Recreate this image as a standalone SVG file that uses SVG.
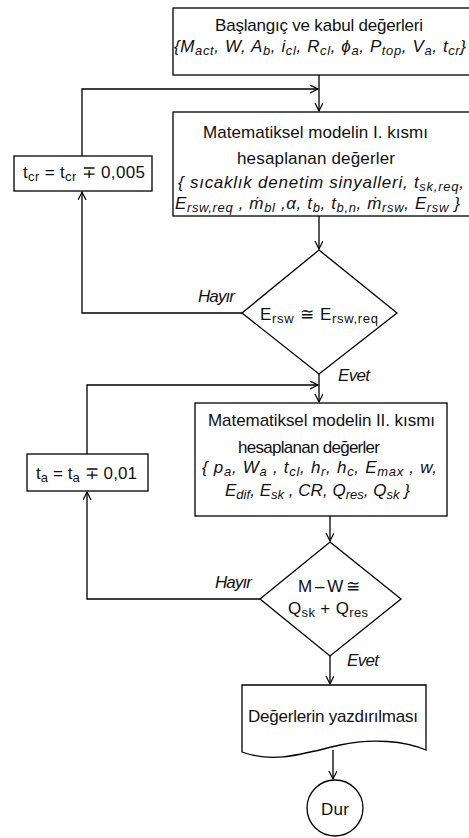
<svg xmlns="http://www.w3.org/2000/svg" width="469" height="838" viewBox="0 0 469 838">
<style>
.s{fill:#fff;stroke:#000;stroke-width:1.3}
.c{fill:none;stroke:#000;stroke-width:1.3}
text{font-family:"Liberation Sans",Arial,sans-serif;font-size:17px;fill:#111}
.i{font-style:italic}
.sb{font-size:13px}
</style>
<defs>
<marker id="a" markerWidth="10" markerHeight="10" refX="8" refY="4" orient="auto" markerUnits="userSpaceOnUse">
<path d="M0,0 L8,4 L0,8" fill="none" stroke="#000" stroke-width="1.2"/>
</marker>
</defs>
<rect width="469" height="838" fill="#fff"/>
<g id="connectors">
<path class="c" d="M319,75 V111" marker-end="url(#a)"/>
<path class="c" d="M242,313 H82 V192" marker-end="url(#a)"/>
<path class="c" d="M82,156 V89 H318" marker-end="url(#a)"/>
<path class="c" d="M319,216 V249" marker-end="url(#a)"/>
<path class="c" d="M319,374 V402" marker-end="url(#a)"/>
<path class="c" d="M260,599 H87 V492" marker-end="url(#a)"/>
<path class="c" d="M87,454 V385 H318" marker-end="url(#a)"/>
<path class="c" d="M330,516 V541" marker-end="url(#a)"/>
<path class="c" d="M330,656 V684" marker-end="url(#a)"/>
<path class="c" d="M333,750 V779" marker-end="url(#a)"/>
</g>
<g id="start">
<rect class="s" x="173" y="8" width="310" height="67"/>
<text x="215" y="31" textLength="208">Başlangıç ve kabul değerleri</text>
<text class="i" x="174" y="52" textLength="292">{M<tspan class="sb" dy="3">act</tspan><tspan dy="-3">, W, A</tspan><tspan class="sb" dy="3">b</tspan><tspan dy="-3">, i</tspan><tspan class="sb" dy="3">cl</tspan><tspan dy="-3">, R</tspan><tspan class="sb" dy="3">cl</tspan><tspan dy="-3">, ϕ</tspan><tspan class="sb" dy="3">a</tspan><tspan dy="-3">, P</tspan><tspan class="sb" dy="3">top</tspan><tspan dy="-3">, V</tspan><tspan class="sb" dy="3">a</tspan><tspan dy="-3">, t</tspan><tspan class="sb" dy="3">cr</tspan><tspan dy="-3">}</tspan></text>
</g>
<g id="model1">
<rect class="s" x="173" y="112" width="310" height="104"/>
<text x="203" y="138" textLength="225">Matematiksel modelin I. kısmı</text>
<text x="237" y="164" textLength="158">hesaplanan değerler</text>
<text class="i" x="178" y="188" textLength="286">{ sıcaklık denetim sinyalleri, t<tspan class="sb" dy="3">sk,req</tspan><tspan dy="-3">,</tspan></text>
<text class="i" x="175" y="209" textLength="285">E<tspan class="sb" dy="3">rsw,req</tspan><tspan dy="-3"> , ṁ</tspan><tspan class="sb" dy="3">bl</tspan><tspan dy="-3"> ,α, t</tspan><tspan class="sb" dy="3">b</tspan><tspan dy="-3">, t</tspan><tspan class="sb" dy="3">b,n</tspan><tspan dy="-3">, ṁ</tspan><tspan class="sb" dy="3">rsw</tspan><tspan dy="-3">, E</tspan><tspan class="sb" dy="3">rsw</tspan><tspan dy="-3"> }</tspan></text>
</g>
<g id="tcr">
<rect class="s" x="14" y="156" width="138" height="35"/>
<text x="23" y="178" textLength="122">t<tspan class="sb" dy="3">cr</tspan><tspan dy="-3"> = t</tspan><tspan class="sb" dy="3">cr</tspan><tspan dy="-3"> ∓ 0,005</tspan></text>
</g>
<g id="decision1">
<polygon class="s" points="319,250 397,313 319,374 242,313"/>
<text x="260" y="320" textLength="118">E<tspan class="sb" dy="3">rsw</tspan><tspan dy="-3"> ≅ E</tspan><tspan class="sb" dy="3">rsw,req</tspan></text>
<text class="i" x="198" y="302" textLength="37">Hayır</text>
<text class="i" x="338" y="381" textLength="32">Evet</text>
</g>
<g id="model2">
<rect class="s" x="195" y="403" width="252" height="113"/>
<text x="208" y="426" textLength="227">Matematiksel modelin II. kısmı</text>
<text x="238" y="453" textLength="142">hesaplanan değerler</text>
<text class="i" x="202" y="473" textLength="235">{ p<tspan class="sb" dy="3">a</tspan><tspan dy="-3">, W</tspan><tspan class="sb" dy="3">a</tspan><tspan dy="-3"> , t</tspan><tspan class="sb" dy="3">cl</tspan><tspan dy="-3">, h</tspan><tspan class="sb" dy="3">r</tspan><tspan dy="-3">, h</tspan><tspan class="sb" dy="3">c</tspan><tspan dy="-3">, E</tspan><tspan class="sb" dy="3">max</tspan><tspan dy="-3"> , w,</tspan></text>
<text class="i" x="225" y="496" textLength="185">E<tspan class="sb" dy="3">dif</tspan><tspan dy="-3">, E</tspan><tspan class="sb" dy="3">sk</tspan><tspan dy="-3"> , CR, Q</tspan><tspan class="sb" dy="3">res</tspan><tspan dy="-3">, Q</tspan><tspan class="sb" dy="3">sk</tspan><tspan dy="-3"> }</tspan></text>
</g>
<g id="ta">
<rect class="s" x="27" y="454" width="121" height="37"/>
<text x="36" y="479" textLength="101">t<tspan class="sb" dy="3">a</tspan><tspan dy="-3"> = t</tspan><tspan class="sb" dy="3">a</tspan><tspan dy="-3"> ∓ 0,01</tspan></text>
</g>
<g id="decision2">
<polygon class="s" points="330,542 401,599 330,656 260,599"/>
<text x="298" y="592" textLength="62">M – W ≅</text>
<text x="288" y="614" textLength="80">Q<tspan class="sb" dy="3">sk</tspan><tspan dy="-3"> + Q</tspan><tspan class="sb" dy="3">res</tspan></text>
<text class="i" x="215" y="588" textLength="37">Hayır</text>
<text class="i" x="347" y="666" textLength="32">Evet</text>
</g>
<g id="output">
<path class="s" d="M242,685 H426 V750 C405,741 372,738 340,745 C305,753 275,764 242,752 Z"/>
<text x="248" y="722" textLength="170">Değerlerin yazdırılması</text>
</g>
<g id="stop">
<circle class="s" cx="335" cy="808" r="28"/>
<text x="321" y="815" textLength="28">Dur</text>
</g>
</svg>
